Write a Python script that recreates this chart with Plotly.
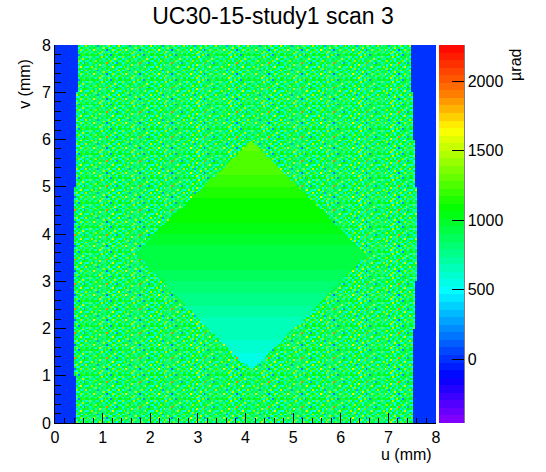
import numpy as np
import plotly.graph_objects as go

# binning of the u/v map (mm)
bin_w = 0.04
u_centers = np.arange(200) * bin_w + bin_w / 2
v_centers = np.arange(200) * bin_w + bin_w / 2

# edges of the scanned area per 1 mm band in v (v = 0-1, 1-2, ... 7-8)
left_edge = [0.45, 0.42, 0.41, 0.42, 0.42, 0.43, 0.45, 0.49]
right_edge = [7.50, 7.53, 7.56, 7.59, 7.58, 7.55, 7.52, 7.47]
outside_value = 0

# diamond corners (u, v): top, right, bottom, left
diamond_u = [4.11, 6.55, 4.14, 1.66]
diamond_v = [5.97, 3.56, 1.10, 3.58]
# smooth diamond level per 0.25 mm row starting at v = 1.0
diamond_v0 = 1.0
diamond_level = [540, 560, 600, 640, 680, 720, 760, 800, 850, 900,
                 950, 990, 1030, 1070, 1110, 1150, 1190, 1230, 1270, 1310]

noise_patch = [
    [1150, 550, 1100, 800, 480, 1150, 1500, 600, 1050, 550, 950, 1350, 650, 1150, 800, 500, 1100],
    [750, 1200, 500, 1050, 950, 650, 1150, 1400, 500, 1150, 700, 550, 1100, 600, 1000, 1300, 650],
    [1250, 550, 950, 1650, 650, 1150, 550, 950, 1150, 450, 150, 1050, 850, 1400, 550, 950, 1150],
    [600, 1100, 700, 1050, 1200, 500, 1000, 650, 1500, 950, 1150, 600, 500, 1050, 1150, 650, 800],
    [1050, 500, 1150, 600, 1050, 250, 850, 1200, 600, 1100, 550, 1400, 1050, 650, 450, 1100, 1500],
    [900, 1150, 1000, 550, 1400, 950, 500, 1100, 850, 550, 1100, 700, 1150, 1000, 800, 550, 1050],
    [500, 950, 1450, 1100, 600, 1150, 1050, 450, 1200, 650, 850, 1100, 550, 1600, 1000, 700, 600],
    [1150, 650, 800, 1050, 500, 950, 1600, 700, 600, 1300, 1050, 450, 950, 650, 1150, 1100, 950],
    [950, 550, 750, 1200, 1050, 650, 1100, 900, 1050, 600, 1900, 950, 650, 1100, 550, 300, 1150],
    [550, 1050, 1150, 650, 1400, 1100, 600, 1150, 500, 1050, 750, 1150, 1350, 500, 950, 1050, 650],
    [1100, 600, 950, 550, 1050, 900, 1200, 750, 550, 950, 1100, 600, 1050, 750, 1550, 600, 1050],
    [650, 1350, 550, 1100, 700, 450, 1050, 1500, 1100, 650, 500, 1050, 800, 1100, 650, 1150, 500],
    [1050, 800, 1100, 950, 1150, 1100, 650, 550, 900, 1400, 1050, 700, 200, 1050, 1200, 750, 1100],
]

# palette anchors (position, rgb) -> 50 flat bands like the ROOT palette
pal_pos = [0.0, 0.121, 0.184, 0.35, 0.566, 0.776, 0.868, 1.0]
pal_rgb = [(140, 0, 255), (0, 0, 255), (0, 64, 255), (0, 255, 255),
           (0, 255, 0), (255, 255, 0), (255, 128, 0), (255, 0, 0)]
z_min, z_max = -460, 2260


def in_diamond(u, v):
    # point inside convex quad (vertices in order)
    sign = None
    for k in range(4):
        x1, y1 = diamond_u[k], diamond_v[k]
        x2, y2 = diamond_u[(k + 1) % 4], diamond_v[(k + 1) % 4]
        c = (x2 - x1) * (v - y1) - (y2 - y1) * (u - x1)
        s = c >= 0
        if sign is None:
            sign = s
        elif s != sign:
            return False
    return True


ph, pw = len(noise_patch), len(noise_patch[0])
z = []
for j, v in enumerate(v_centers):
    band = min(int(v), 7)
    row = []
    for i, u in enumerate(u_centers):
        if u < left_edge[band] or u > right_edge[band]:
            row.append(outside_value)
        elif in_diamond(u, v):
            k = min(max(int((v - diamond_v0) / 0.25), 0), len(diamond_level) - 1)
            row.append(diamond_level[k])
        else:
            row.append(noise_patch[j % ph][i % pw])
    z.append(row)

n_bands = 50
cscale = []
for b in range(n_bands):
    t = (b + 0.5) / n_bands
    rgb = [int(round(np.interp(t, pal_pos, [c[q] for c in pal_rgb]))) for q in range(3)]
    col = "rgb(%d,%d,%d)" % tuple(rgb)
    cscale.append([b / n_bands, col])
    cscale.append([(b + 1) / n_bands, col])

font = "Liberation Sans, Arial, sans-serif"

trace = go.Heatmap(
    x=u_centers, y=v_centers, z=z,
    zmin=z_min, zmax=z_max, colorscale=cscale, zsmooth=False,
    colorbar=dict(
        x=1.0079, xanchor="left", y=0.5, yanchor="middle", len=1.0,
        thickness=25, thicknessmode="pixels", xpad=0, ypad=0,
        outlinewidth=0, ticks="inside", ticklen=12, tickwidth=1, tickcolor="black",
        tickvals=[0, 500, 1000, 1500, 2000],
        tickfont=dict(family=font, size=16, color="black"),
    ),
)

layout = go.Layout(
    width=546, height=472,
    margin=dict(l=55, r=110, t=45, b=49, autoexpand=False),
    paper_bgcolor="white", plot_bgcolor="white",
    title=dict(text="UC30-15-study1 scan 3", x=0.5, xanchor="center",
               y=1 - 16 / 472, yanchor="middle",
               font=dict(family=font, size=23, color="black")),
    xaxis=dict(range=[0, 8], dtick=1, ticks="inside", ticklen=10, tickcolor="black",
               minor=dict(dtick=0.2, ticks="inside", ticklen=5, tickcolor="black"),
               showgrid=False, zeroline=False, showline=True, linecolor="black",
               tickfont=dict(family=font, size=16, color="black")),
    yaxis=dict(range=[0, 8], dtick=1, ticks="inside", ticklen=11, tickcolor="black",
               minor=dict(dtick=0.2, ticks="inside", ticklen=6, tickcolor="black"),
               showgrid=False, zeroline=False, showline=True, linecolor="black",
               tickfont=dict(family=font, size=16, color="black")),
    annotations=[
        dict(text="v (mm)", xref="paper", yref="paper", x=-0.082, y=0.968,
             xanchor="center", yanchor="top", textangle=-90, showarrow=False,
             font=dict(family=font, size=16, color="black")),
        dict(text="u (mm)", xref="paper", yref="paper", x=0.995, y=-0.084,
             xanchor="right", yanchor="middle", showarrow=False,
             font=dict(family=font, size=16, color="black")),
        dict(text="µrad", xref="paper", yref="paper", x=1.21, y=0.995,
             xanchor="center", yanchor="top", textangle=-90, showarrow=False,
             font=dict(family=font, size=16, color="black")),
    ],
    shapes=[
        dict(type="line", xref="paper", yref="paper", x0=1.0735, x1=1.0735, y0=0, y1=1,
             line=dict(color="black", width=1)),
    ],
)

fig = go.Figure(trace, layout=layout)
# drop the page's default body margin so the figure sits at the window corner
fig.write_html("out.html", config={"displayModeBar": False},
               post_script="document.body.style.margin='0';")
